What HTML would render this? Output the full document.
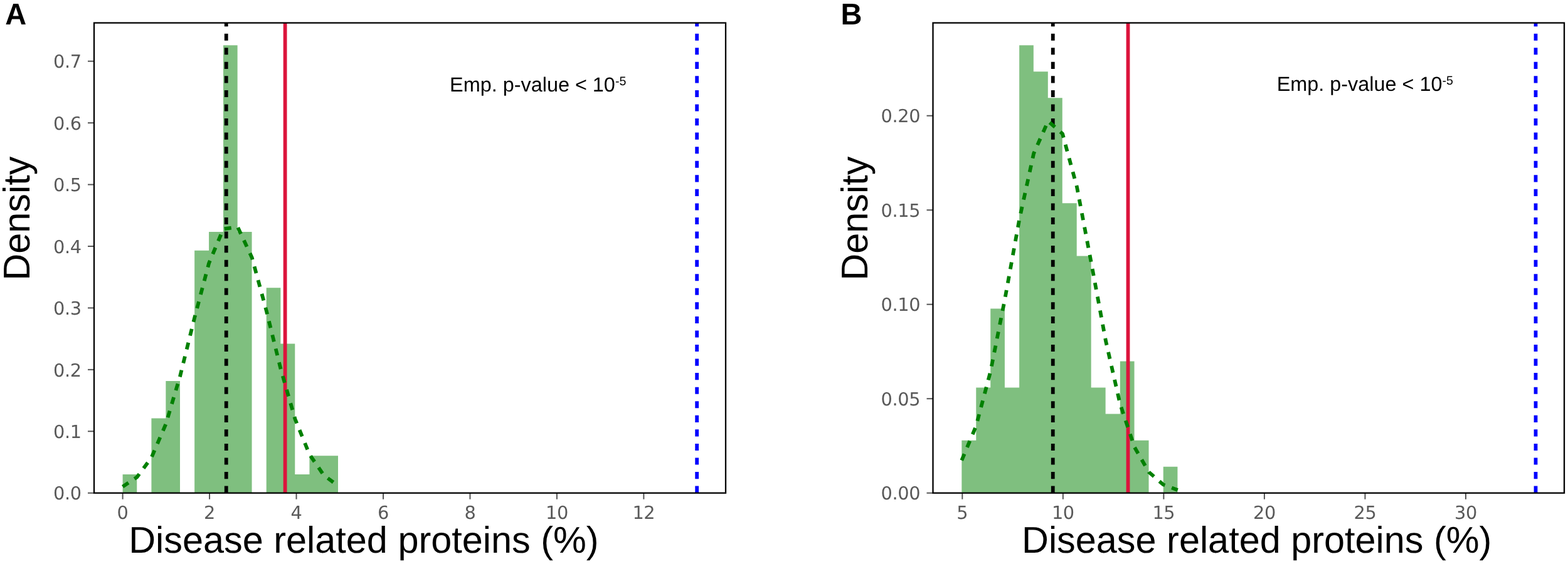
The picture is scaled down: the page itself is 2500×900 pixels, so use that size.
<!DOCTYPE html>
<html lang="en">
<head>
<meta charset="utf-8">
<title>Disease related proteins density</title>
<style>
html,body{margin:0;padding:0;background:#fff;}
body{width:2500px;height:900px;overflow:hidden;}
svg{display:block;}
text{text-rendering:geometricPrecision;}
.tk{font-family:"DejaVu Sans","Liberation Sans",sans-serif;font-size:28.8px;fill:#595959;letter-spacing:-0.37px;}
.lab{font-family:"Liberation Sans",Arial,Helvetica,sans-serif;font-size:59.4px;fill:#000;}
.ann{font-family:"Liberation Sans",Arial,Helvetica,sans-serif;font-size:32.4px;fill:#000;}
.sup{font-size:19.6px;}
.let{font-family:"Liberation Sans",Arial,Helvetica,sans-serif;font-size:47.0px;font-weight:bold;fill:#000;}
</style>
</head>
<body>
<svg width="2500" height="900" viewBox="0 0 2500 900">
<rect x="0" y="0" width="2500" height="900" fill="#ffffff"/>
<clipPath id="clipA"><rect x="150" y="36.5" width="1007" height="750.2"/></clipPath>
<g clip-path="url(#clipA)">
<path d="M195.6,786.7L195.6,756.93L218.26,756.93L218.26,786.7Z M241.42,786.7L241.42,667.62L264.33,667.62L264.33,608.08L286.99,608.08L286.99,786.7Z M310.15,786.7L310.15,399.69L333.06,399.69L333.06,369.92L355.97,369.92L355.97,72.22L378.63,72.22L378.63,369.92L401.54,369.92L401.54,786.7Z M424.7,786.7L424.7,459.23L447.36,459.23L447.36,548.54L470.27,548.54L470.27,756.93L493.43,756.93L493.43,727.16L516.34,727.16L516.34,727.16L539,727.16L539,786.7Z" fill="#008000" fill-opacity="0.5"/>
<line x1="360.71" y1="786.7" x2="360.71" y2="36.5" stroke="#000000" stroke-width="5.8" stroke-dasharray="11.1 11.46"/>
<line x1="454.59" y1="786.7" x2="454.59" y2="36.5" stroke="#DC143C" stroke-width="5.8"/>
<line x1="1111.17" y1="786.7" x2="1111.17" y2="36.5" stroke="#0000FF" stroke-width="5.8" stroke-dasharray="11.1 11.46"/>
<polyline points="195.6,776.63 218.51,761.25 241.42,730.28 264.33,677.02 287.24,599.71 310.15,507.15 333.06,420.22 355.97,365.41 378.88,362.01 401.79,411.28 424.7,495.69 447.61,588.88 470.52,668.79 493.43,725.07 516.34,758.45 539.25,775.35" fill="none" stroke="#008000" stroke-width="5.8" stroke-dasharray="11.1 11.46" stroke-linejoin="round"/>
</g>
<line x1="195.6" y1="786.7" x2="195.6" y2="796.7" stroke="#555555" stroke-width="2.0"/>
<text x="195.6" y="828.3" text-anchor="middle" class="tk">0</text>
<line x1="334.06" y1="786.7" x2="334.06" y2="796.7" stroke="#555555" stroke-width="2.0"/>
<text x="334.06" y="828.3" text-anchor="middle" class="tk">2</text>
<line x1="472.52" y1="786.7" x2="472.52" y2="796.7" stroke="#555555" stroke-width="2.0"/>
<text x="472.52" y="828.3" text-anchor="middle" class="tk">4</text>
<line x1="610.98" y1="786.7" x2="610.98" y2="796.7" stroke="#555555" stroke-width="2.0"/>
<text x="610.98" y="828.3" text-anchor="middle" class="tk">6</text>
<line x1="749.44" y1="786.7" x2="749.44" y2="796.7" stroke="#555555" stroke-width="2.0"/>
<text x="749.44" y="828.3" text-anchor="middle" class="tk">8</text>
<line x1="887.9" y1="786.7" x2="887.9" y2="796.7" stroke="#555555" stroke-width="2.0"/>
<text x="887.9" y="828.3" text-anchor="middle" class="tk">10</text>
<line x1="1026.36" y1="786.7" x2="1026.36" y2="796.7" stroke="#555555" stroke-width="2.0"/>
<text x="1026.36" y="828.3" text-anchor="middle" class="tk">12</text>
<line x1="140" y1="786.7" x2="150" y2="786.7" stroke="#555555" stroke-width="2.0"/>
<text x="129.7" y="797.4" text-anchor="end" class="tk">0.0</text>
<line x1="140" y1="688.27" x2="150" y2="688.27" stroke="#555555" stroke-width="2.0"/>
<text x="129.7" y="698.97" text-anchor="end" class="tk">0.1</text>
<line x1="140" y1="589.84" x2="150" y2="589.84" stroke="#555555" stroke-width="2.0"/>
<text x="129.7" y="600.54" text-anchor="end" class="tk">0.2</text>
<line x1="140" y1="491.41" x2="150" y2="491.41" stroke="#555555" stroke-width="2.0"/>
<text x="129.7" y="502.11" text-anchor="end" class="tk">0.3</text>
<line x1="140" y1="392.98" x2="150" y2="392.98" stroke="#555555" stroke-width="2.0"/>
<text x="129.7" y="403.68" text-anchor="end" class="tk">0.4</text>
<line x1="140" y1="294.55" x2="150" y2="294.55" stroke="#555555" stroke-width="2.0"/>
<text x="129.7" y="305.25" text-anchor="end" class="tk">0.5</text>
<line x1="140" y1="196.12" x2="150" y2="196.12" stroke="#555555" stroke-width="2.0"/>
<text x="129.7" y="206.82" text-anchor="end" class="tk">0.6</text>
<line x1="140" y1="97.69" x2="150" y2="97.69" stroke="#555555" stroke-width="2.0"/>
<text x="129.7" y="108.39" text-anchor="end" class="tk">0.7</text>
<rect x="150" y="36.5" width="1007" height="750.2" fill="none" stroke="#000" stroke-width="2.3"/>
<text x="579.9" y="882" text-anchor="middle" class="lab">Disease related proteins (%)</text>
<text transform="translate(46.7,348.6) rotate(-90)" text-anchor="middle" class="lab">Density</text>
<text x="717.1" y="145.9" class="ann">Emp. p-value &lt; 10<tspan class="sup" dy="-10">-5</tspan></text>
<text transform="translate(8.2,38.7) scale(1,1.02)" class="let">A</text>
<clipPath id="clipB"><rect x="1487.5" y="36.5" width="1006.5" height="750.2"/></clipPath>
<g clip-path="url(#clipB)">
<path d="M1533.3,786.7L1533.3,702.64L1556.26,702.64L1556.26,618.58L1579.22,618.58L1579.22,492.49L1601.93,492.49L1601.93,618.58L1625.14,618.58L1625.14,72.19L1647.85,72.19L1647.85,114.22L1670.81,114.22L1670.81,156.25L1693.77,156.25L1693.77,324.37L1716.73,324.37L1716.73,408.43L1739.69,408.43L1739.69,618.58L1762.65,618.58L1762.65,660.61L1785.86,660.61L1785.86,576.55L1808.57,576.55L1808.57,702.64L1831.53,702.64L1831.53,786.7Z M1854.74,786.7L1854.74,744.67L1877.45,744.67L1877.45,786.7Z" fill="#008000" fill-opacity="0.5"/>
<line x1="1678.75" y1="786.7" x2="1678.75" y2="36.5" stroke="#000000" stroke-width="5.8" stroke-dasharray="11.1 11.46"/>
<line x1="1798.52" y1="786.7" x2="1798.52" y2="36.5" stroke="#DC143C" stroke-width="5.8"/>
<line x1="2448.51" y1="786.7" x2="2448.51" y2="36.5" stroke="#0000FF" stroke-width="5.8" stroke-dasharray="11.1 11.46"/>
<polyline points="1533.3,734.66 1556.26,679.78 1579.22,593 1602.18,477.25 1625.14,350.73 1648.1,245.05 1671.06,193.26 1694.02,213.34 1716.98,298.19 1739.94,419.66 1762.9,543.51 1785.86,644.6 1808.82,713.48 1831.78,753.43 1854.74,773.37 1877.7,781.99" fill="none" stroke="#008000" stroke-width="5.8" stroke-dasharray="11.1 11.46" stroke-linejoin="round"/>
</g>
<line x1="1534.3" y1="786.7" x2="1534.3" y2="796.7" stroke="#555555" stroke-width="2.0"/>
<text x="1534.3" y="828.3" text-anchor="middle" class="tk">5</text>
<line x1="1694.84" y1="786.7" x2="1694.84" y2="796.7" stroke="#555555" stroke-width="2.0"/>
<text x="1694.84" y="828.3" text-anchor="middle" class="tk">10</text>
<line x1="1855.38" y1="786.7" x2="1855.38" y2="796.7" stroke="#555555" stroke-width="2.0"/>
<text x="1855.38" y="828.3" text-anchor="middle" class="tk">15</text>
<line x1="2015.92" y1="786.7" x2="2015.92" y2="796.7" stroke="#555555" stroke-width="2.0"/>
<text x="2015.92" y="828.3" text-anchor="middle" class="tk">20</text>
<line x1="2176.46" y1="786.7" x2="2176.46" y2="796.7" stroke="#555555" stroke-width="2.0"/>
<text x="2176.46" y="828.3" text-anchor="middle" class="tk">25</text>
<line x1="2337" y1="786.7" x2="2337" y2="796.7" stroke="#555555" stroke-width="2.0"/>
<text x="2337" y="828.3" text-anchor="middle" class="tk">30</text>
<line x1="1477.5" y1="786.7" x2="1487.5" y2="786.7" stroke="#555555" stroke-width="2.0"/>
<text x="1467.2" y="797.4" text-anchor="end" class="tk">0.00</text>
<line x1="1477.5" y1="636.2" x2="1487.5" y2="636.2" stroke="#555555" stroke-width="2.0"/>
<text x="1467.2" y="646.9" text-anchor="end" class="tk">0.05</text>
<line x1="1477.5" y1="485.7" x2="1487.5" y2="485.7" stroke="#555555" stroke-width="2.0"/>
<text x="1467.2" y="496.4" text-anchor="end" class="tk">0.10</text>
<line x1="1477.5" y1="335.2" x2="1487.5" y2="335.2" stroke="#555555" stroke-width="2.0"/>
<text x="1467.2" y="345.9" text-anchor="end" class="tk">0.15</text>
<line x1="1477.5" y1="184.7" x2="1487.5" y2="184.7" stroke="#555555" stroke-width="2.0"/>
<text x="1467.2" y="195.4" text-anchor="end" class="tk">0.20</text>
<rect x="1487.5" y="36.5" width="1006.5" height="750.2" fill="none" stroke="#000" stroke-width="2.3"/>
<text x="2003.7" y="881.7" text-anchor="middle" class="lab">Disease related proteins (%)</text>
<text transform="translate(1382.8,348.6) rotate(-90)" text-anchor="middle" class="lab">Density</text>
<text x="2035.7" y="145.0" class="ann">Emp. p-value &lt; 10<tspan class="sup" dy="-10">-5</tspan></text>
<text transform="translate(1340.5,38.7) scale(1,1.02)" class="let">B</text>
</svg>
</body>
</html>
